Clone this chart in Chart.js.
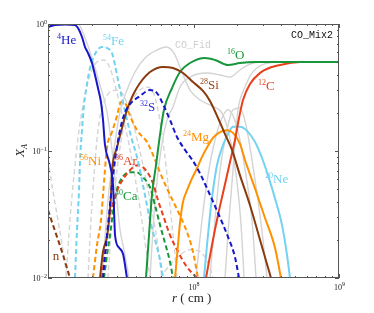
<!DOCTYPE html>
<html>
<head>
<meta charset="utf-8">
<script src="https://cdn.jsdelivr.net/npm/chart.js@4.4.0/dist/chart.umd.min.js"></script>
<style>
  html, body { margin: 0; padding: 0; background: #fff; }
  #wrap { width: 374px; height: 313px; }
</style>
</head>
<body>
<div id="wrap"><canvas id="chart" width="374" height="313"></canvas></div>
<script>
// radius r (cm) and mass fraction X_A
const rHe4 = [1.0e7, 1.117e7, 1.309e7, 1.533e7, 1.608e7, 1.713e7, 1.796e7, 1.884e7, 2.006e7, 2.104e7, 2.206e7, 2.313e7, 2.388e7, 2.464e7, 2.667e7, 2.798e7, 2.842e7, 2.888e7, 3.08e7, 3.277e7, 3.491e7];
const xHe4 = [0.947, 0.982, 0.99, 0.98, 0.93, 0.79, 0.659, 0.591, 0.493, 0.397, 0.313, 0.243, 0.176, 0.112, 0.0774, 0.0536, 0.0347, 0.0218, 0.0173, 0.0155, 0.01];

const rFe54 = [1.533e7, 1.582e7, 1.634e7, 1.66e7, 1.713e7, 1.768e7, 1.825e7, 1.944e7, 2.104e7, 2.35e7, 2.544e7, 2.754e7, 2.888e7, 3.028e7, 3.226e7, 3.491e7, 3.779e7, 4.09e7, 4.358e7, 4.642e7, 5.024e7, 5.438e7, 5.885e7, 6.171e7];
const xFe54 = [0.01, 0.0239, 0.0489, 0.0849, 0.146, 0.23, 0.302, 0.45, 0.58, 0.659, 0.647, 0.591, 0.476, 0.362, 0.261, 0.176, 0.122, 0.0897, 0.0643, 0.0447, 0.0286, 0.02, 0.0139, 0.01];

const rNi56 = [2.038e7, 2.172e7, 2.313e7, 2.388e7, 2.544e7, 2.754e7, 2.98e7, 3.175e7, 3.382e7, 3.661e7, 4.09e7, 4.289e7, 4.791e7, 5.269e7, 5.885e7, 6.574e7, 7.702e7, 9.022e7, 9.92e7, 1.074e8];
const xNi56 = [0.01, 0.0182, 0.0286, 0.0447, 0.106, 0.141, 0.189, 0.243, 0.239, 0.189, 0.146, 0.136, 0.118, 0.0932, 0.0679, 0.0507, 0.0347, 0.023, 0.0161, 0.01];

const rAr36 = [2.35e7, 2.504e7, 2.667e7, 2.842e7, 3.028e7, 3.382e7, 3.779e7, 4.155e7, 4.497e7, 4.868e7, 5.269e7, 5.702e7, 6.171e7, 6.893e7, 7.825e7, 9.022e7, 1.057e8];
const xAr36 = [0.01, 0.0182, 0.0313, 0.0409, 0.0507, 0.0631, 0.0732, 0.0774, 0.0745, 0.0667, 0.0556, 0.0409, 0.0313, 0.0218, 0.0161, 0.0122, 0.01];

const rCa40 = [2.426e7, 2.544e7, 2.667e7, 2.798e7, 2.934e7, 3.08e7, 3.277e7, 3.547e7, 4.09e7, 4.497e7, 5.024e7, 5.438e7, 5.885e7, 6.369e7, 6.893e7, 7.229e7];
const xCa40 = [0.01, 0.0152, 0.0218, 0.0331, 0.0464, 0.0556, 0.0631, 0.0679, 0.0679, 0.062, 0.0517, 0.0374, 0.0262, 0.0189, 0.0134, 0.01];

const rSi28 = [2.277e7, 2.388e7, 2.544e7, 2.626e7, 2.71e7, 2.754e7, 2.98e7, 3.226e7, 3.491e7, 3.839e7, 4.289e7, 5.024e7, 6.171e7, 7.229e7, 8.468e7, 9.92e7, 1.162e8, 1.298e8, 1.474e8, 1.646e8, 1.839e8, 2.087e8, 2.445e8, 2.864e8, 3.409e8];
const xSi28 = [0.01, 0.0161, 0.0211, 0.0286, 0.0447, 0.0679, 0.106, 0.152, 0.211, 0.276, 0.343, 0.419, 0.459, 0.45, 0.411, 0.349, 0.297, 0.248, 0.182, 0.136, 0.102, 0.0643, 0.0374, 0.02, 0.01];

const rS32 = [2.388e7, 2.504e7, 2.626e7, 2.754e7, 2.888e7, 3.077e7, 3.329e7, 3.661e7, 4.289e7, 5.024e7, 5.612e7, 6.171e7, 6.893e7, 7.702e7, 8.741e7, 9.92e7, 1.108e8, 1.258e8, 1.474e8, 1.726e8, 1.928e8, 2.055e8];
const xS32 = [0.01, 0.0182, 0.0313, 0.0536, 0.0849, 0.134, 0.192, 0.234, 0.271, 0.302, 0.286, 0.234, 0.176, 0.129, 0.102, 0.0834, 0.0667, 0.0489, 0.0325, 0.0211, 0.0146, 0.01];

const rO16 = [4.716e7, 4.946e7, 5.18e7, 5.525e7, 5.885e7, 6.27e7, 7.115e7, 8.076e7, 9.461e7, 1.199e8, 1.405e8, 1.726e8, 2.087e8, 2.647e8, 1.0e9];
const xO16 = [0.01, 0.0218, 0.0447, 0.0774, 0.134, 0.211, 0.313, 0.419, 0.493, 0.54, 0.521, 0.476, 0.493, 0.502, 0.502];

const rC12 = [1.219e8, 1.34e8, 1.474e8, 1.621e8, 1.782e8, 1.928e8, 2.055e8, 2.189e8, 2.445e8, 2.864e8, 3.463e8, 4.255e8, 5.395e8, 1.0e9];
const xC12 = [0.01, 0.0182, 0.0313, 0.0507, 0.0818, 0.122, 0.182, 0.252, 0.337, 0.411, 0.459, 0.484, 0.502, 0.502];

const rMg24 = [7.462e7, 7.825e7, 8.076e7, 8.468e7, 9.022e7, 9.77e7, 1.057e8, 1.162e8, 1.258e8, 1.361e8, 1.521e8, 1.699e8, 1.868e8, 2.087e8, 2.259e8, 2.647e8, 3.101e8, 3.631e8, 3.993e8];
const xMg24 = [0.01, 0.0182, 0.0272, 0.0397, 0.0489, 0.0608, 0.0732, 0.0932, 0.11, 0.127, 0.141, 0.146, 0.139, 0.114, 0.0849, 0.0507, 0.0297, 0.0173, 0.01];

const rNe20 = [1.181e8, 1.238e8, 1.298e8, 1.361e8, 1.45e8, 1.57e8, 1.699e8, 1.868e8, 2.087e8, 2.332e8, 2.647e8, 2.957e8, 3.251e8, 3.631e8, 4.057e8, 4.392e8, 4.605e8];
const xNe20 = [0.01, 0.0182, 0.0313, 0.0489, 0.0774, 0.106, 0.131, 0.155, 0.155, 0.144, 0.118, 0.0881, 0.0643, 0.0424, 0.0262, 0.0152, 0.01];

const rN = [1.0e7, 1.065e7, 1.153e7, 1.248e7, 1.33e7, 1.416e7];
const xN = [0.0343, 0.0276, 0.0211, 0.0161, 0.0127, 0.01];

// reference model CO_Fid (grey)
const rFidHe4 = [1.0e7, 1.416e7, 1.608e7, 1.796e7, 2.006e7, 2.277e7, 2.544e7, 2.754e7, 2.934e7, 3.125e7, 3.329e7, 3.603e7];
const xFidHe4 = [0.98, 1.0, 1.0, 0.776, 0.54, 0.331, 0.203, 0.102, 0.0489, 0.024, 0.0167, 0.01];
const rFidFe54 = [1.33e7, 1.416e7, 1.509e7, 1.634e7, 1.768e7, 1.944e7, 2.172e7, 2.426e7, 2.667e7, 2.888e7, 3.125e7, 3.436e7, 3.779e7, 4.155e7, 4.569e7, 5.024e7];
const xFidFe54 = [0.01, 0.0286, 0.0643, 0.146, 0.252, 0.397, 0.502, 0.521, 0.45, 0.331, 0.23, 0.146, 0.0849, 0.0447, 0.0218, 0.01];
const rFidN = [1.0e7, 1.08e7, 1.17e7, 1.266e7, 1.351e7];
const xFidN = [0.085, 0.049, 0.0286, 0.0167, 0.01];
const rFidNi56 = [1.884e7, 1.975e7, 2.07e7, 2.206e7, 2.388e7, 2.667e7, 2.98e7, 3.329e7, 3.661e7, 4.026e7, 4.497e7, 5.024e7, 5.612e7, 6.074e7];
const xFidNi56 = [0.01, 0.0286, 0.0643, 0.146, 0.23, 0.291, 0.302, 0.271, 0.203, 0.134, 0.0774, 0.0409, 0.02, 0.01];
const rFidS32 = [2.584e7, 2.754e7, 2.98e7, 3.277e7, 3.661e7, 4.155e7, 4.716e7, 5.269e7, 5.702e7, 6.074e7, 6.47e7, 6.893e7, 7.345e7, 7.702e7];
const xFidS32 = [0.01, 0.0286, 0.0705, 0.146, 0.23, 0.291, 0.319, 0.291, 0.211, 0.134, 0.0774, 0.0374, 0.0182, 0.01];
const rFidSi28 = [2.35e7, 2.584e7, 2.842e7, 3.125e7, 3.491e7, 3.962e7, 4.642e7, 5.612e7, 6.47e7, 7.345e7, 8.33e7, 9.461e7, 1.108e8, 1.34e8, 1.57e8, 1.726e8, 1.898e8, 2.055e8, 2.154e8, 2.224e8];
const xFidSi28 = [0.01, 0.0409, 0.102, 0.203, 0.302, 0.419, 0.54, 0.624, 0.659, 0.591, 0.419, 0.302, 0.252, 0.226, 0.199, 0.146, 0.0849, 0.0409, 0.02, 0.01];
const rFidO16 = [5.024e7, 5.269e7, 5.525e7, 5.979e7, 6.574e7, 7.229e7, 8.076e7, 9.461e7, 1.238e8, 1.521e8, 1.782e8, 2.087e8, 2.445e8, 2.957e8, 1.0e9];
const xFidO16 = [0.01, 0.024, 0.0489, 0.102, 0.176, 0.222, 0.319, 0.382, 0.411, 0.397, 0.382, 0.434, 0.484, 0.502, 0.502];
const rFidC12 = [1.646e8, 1.754e8, 1.868e8, 1.959e8, 2.022e8, 2.259e8, 2.524e8, 2.957e8, 3.93e8, 1.0e9];
const xFidC12 = [0.01, 0.0286, 0.0705, 0.146, 0.211, 0.319, 0.411, 0.476, 0.502, 0.502];
const rFidMg24 = [1.04e8, 1.144e8, 1.258e8, 1.405e8, 1.57e8, 1.726e8, 1.898e8, 2.087e8, 2.295e8, 2.524e8, 2.692e8];
const xFidMg24 = [0.01, 0.0286, 0.0643, 0.122, 0.182, 0.211, 0.182, 0.122, 0.0643, 0.0286, 0.01];
const rFidNe20 = [1.298e8, 1.405e8, 1.521e8, 1.673e8, 1.868e8, 2.087e8, 2.295e8, 2.524e8, 2.775e8, 3.004e8, 3.2e8];
const xFidNe20 = [0.01, 0.0286, 0.0705, 0.134, 0.211, 0.218, 0.16, 0.0849, 0.0409, 0.02, 0.01];
const rFidAr36 = [5.885e7, 6.893e7, 8.076e7, 9.461e7, 1.074e8, 1.199e8, 1.298e8, 1.361e8];
const xFidAr36 = [0.01, 0.0127, 0.0152, 0.0167, 0.0164, 0.0146, 0.012, 0.01];

const blue = '#1616cc', lightBlue = '#72d2f2', green = '#17973a', red = '#e8401c',
      brown = '#8a3a0c', orange = '#ff9100', grey = '#d4d4d4';

function pts(r, x) {
    return r.map((v, i) => ({ x: v, y: x[i] }));
}

function line(r, x, color, dashed, width) {
    return {
        data: pts(r, x),
        borderColor: color,
        borderWidth: width || 2,
        borderDash: dashed ? [5, 3] : [],
        pointRadius: 0,
        showLine: true,
        fill: false,
        cubicInterpolationMode: 'monotone',
        order: color === grey ? 1 : 0,
    };
}

const datasets = [
    line(rHe4, xHe4, blue, false),
    line(rS32, xS32, blue, true),
    line(rSi28, xSi28, brown, false),
    line(rO16, xO16, green, false),
    line(rC12, xC12, red, false),
    line(rMg24, xMg24, orange, false),
    line(rNe20, xNe20, lightBlue, false),
    line(rFe54, xFe54, lightBlue, true),
    line(rNi56, xNi56, orange, true),
    line(rAr36, xAr36, red, true),
    line(rCa40, xCa40, green, true),
    line(rN, xN, brown, true),
    line(rFidHe4, xFidHe4, grey, false, 1.4),
    line(rFidFe54, xFidFe54, grey, true, 1.4),
    line(rFidN, xFidN, grey, true, 1.4),
    line(rFidNi56, xFidNi56, grey, true, 1.4),
    line(rFidS32, xFidS32, grey, true, 1.4),
    line(rFidSi28, xFidSi28, grey, false, 1.4),
    line(rFidO16, xFidO16, grey, false, 1.4),
    line(rFidC12, xFidC12, grey, false, 1.4),
    line(rFidMg24, xFidMg24, grey, false, 1.4),
    line(rFidNe20, xFidNe20, grey, false, 1.4),
    line(rFidAr36, xFidAr36, grey, true, 1.4),
];

// isotope labels: [superscript, symbol, r, X (baseline), colour]
const labels = [
    ['4', 'He', 1.153e7, 0.696, blue],
    ['54', 'Fe', 2.388e7, 0.683, lightBlue],
    ['16', 'O', 1.70e8, 0.53, green],
    ['28', 'Si', 1.108e8, 0.308, '#a0461c'],
    ['12', 'C', 2.775e8, 0.302, red],
    ['32', 'S', 4.29e7, 0.207, '#3030d8'],
    ['24', 'Mg', 8.47e7, 0.12, orange],
    ['56', 'Ni', 1.66e7, 0.0774, orange],
    ['36', 'Ar', 2.888e7, 0.0774, red],
    ['40', 'Ca', 2.888e7, 0.0409, green],
    ['20', 'Ne', 3.10e8, 0.0556, lightBlue],
    ['', 'n', 1.08e7, 0.0139, brown],
];

const serif = '"Liberation Serif", "DejaVu Serif", serif';
const mono = '"Liberation Mono", "DejaVu Sans Mono", monospace';

const framePlugin = {
    id: 'frame',
    afterDraw(chart) {
        const ctx = chart.ctx;
        const xs = chart.scales.x, ys = chart.scales.y;
        const a = chart.chartArea;
        ctx.save();

        // box
        ctx.strokeStyle = '#555';
        ctx.lineWidth = 1;
        ctx.strokeRect(a.left + 0.5, a.top + 0.5, a.right - a.left - 1, a.bottom - a.top - 1);

        // inner ticks
        ctx.beginPath();
        [1e7, 1e8].forEach(dec => {
            for (let m = 1; m <= 10; m++) {
                const v = dec * m;
                if (v > 1e9) continue;
                const px = Math.round(xs.getPixelForValue(v)) + 0.5;
                const len = (m === 1 || m === 10) ? 4 : 2;
                ctx.moveTo(px, a.bottom); ctx.lineTo(px, a.bottom - len);
                ctx.moveTo(px, a.top); ctx.lineTo(px, a.top + len);
            }
        });
        [0.01, 0.1].forEach(dec => {
            for (let m = 1; m <= 10; m++) {
                const v = dec * m;
                const py = Math.round(ys.getPixelForValue(v)) + 0.5;
                const len = (m === 1 || m === 10) ? 4 : 2;
                ctx.moveTo(a.left, py); ctx.lineTo(a.left + len, py);
                ctx.moveTo(a.right, py); ctx.lineTo(a.right - len, py);
            }
        });
        ctx.stroke();

        // tick labels
        ctx.fillStyle = '#222';
        ctx.textBaseline = 'alphabetic';
        [[1, '0'], [0.1, '\u22121'], [0.01, '\u22122']].forEach(([v, e]) => {
            const py = ys.getPixelForValue(v);
            ctx.font = '6px ' + serif;
            const ew = ctx.measureText(e).width;
            ctx.font = '8px ' + serif;
            const bw = ctx.measureText('10').width;
            const right = a.left - 1;
            ctx.fillText('10', right - ew - bw, py + 3);
            ctx.font = '6px ' + serif;
            ctx.fillText(e, right - ew, py - 0.5);
        });
        [[1e8, '8'], [1e9, '9']].forEach(([v, e]) => {
            const px = xs.getPixelForValue(v);
            ctx.font = '8px ' + serif;
            const bw = ctx.measureText('10').width;
            ctx.fillText('10', px - bw / 2 - 1, a.bottom + 12);
            ctx.font = '6px ' + serif;
            ctx.fillText(e, px + bw / 2 - 1, a.bottom + 8);
        });

        // isotope labels
        labels.forEach(([sup, sym, r, x, color]) => {
            let px = xs.getPixelForValue(r);
            const py = ys.getPixelForValue(x);
            ctx.fillStyle = color;
            if (sup) {
                ctx.font = '8px ' + serif;
                ctx.fillText(sup, px, py - 5);
                px += ctx.measureText(sup).width;
            }
            ctx.font = '13px ' + serif;
            ctx.fillText(sym, px, py);
        });

        // model names
        ctx.fillStyle = '#cfcfcf';
        ctx.font = '10px ' + mono;
        ctx.fillText('CO_Fid', xs.getPixelForValue(7.46e7), ys.getPixelForValue(0.647));
        ctx.fillStyle = '#111';
        ctx.textAlign = 'right';
        ctx.fillText('CO_Mix2', xs.getPixelForValue(9.09e8), ys.getPixelForValue(0.776));
        ctx.textAlign = 'left';

        // axis titles
        ctx.fillStyle = '#222';
        ctx.font = 'italic 13px ' + serif;
        const rw = ctx.measureText('r').width;
        ctx.fillText('r', 172, 302);
        ctx.font = '13px ' + serif;
        ctx.fillText(' ( cm )', 172 + rw, 302);

        ctx.translate(24, (a.top + a.bottom) / 2 + 6);
        ctx.rotate(-Math.PI / 2);
        ctx.font = 'italic 13px ' + serif;
        ctx.fillText('X', 0, 0);
        const xw = ctx.measureText('X').width;
        ctx.font = 'italic 8px ' + serif;
        ctx.fillText('A', xw, 3);
        ctx.restore();
    }
};

new Chart(document.getElementById('chart'), {
    type: 'scatter',
    data: { datasets },
    options: {
        responsive: false,
        animation: false,
        devicePixelRatio: 1,
        layout: { padding: { left: 48, top: 24, right: 35, bottom: 35 } },
        plugins: { legend: { display: false }, tooltip: { enabled: false } },
        scales: {
            x: { type: 'logarithmic', min: 1e7, max: 1e9, display: false },
            y: { type: 'logarithmic', min: 0.01, max: 1, display: false },
        },
    },
    plugins: [framePlugin],
});
</script>
</body>
</html>
